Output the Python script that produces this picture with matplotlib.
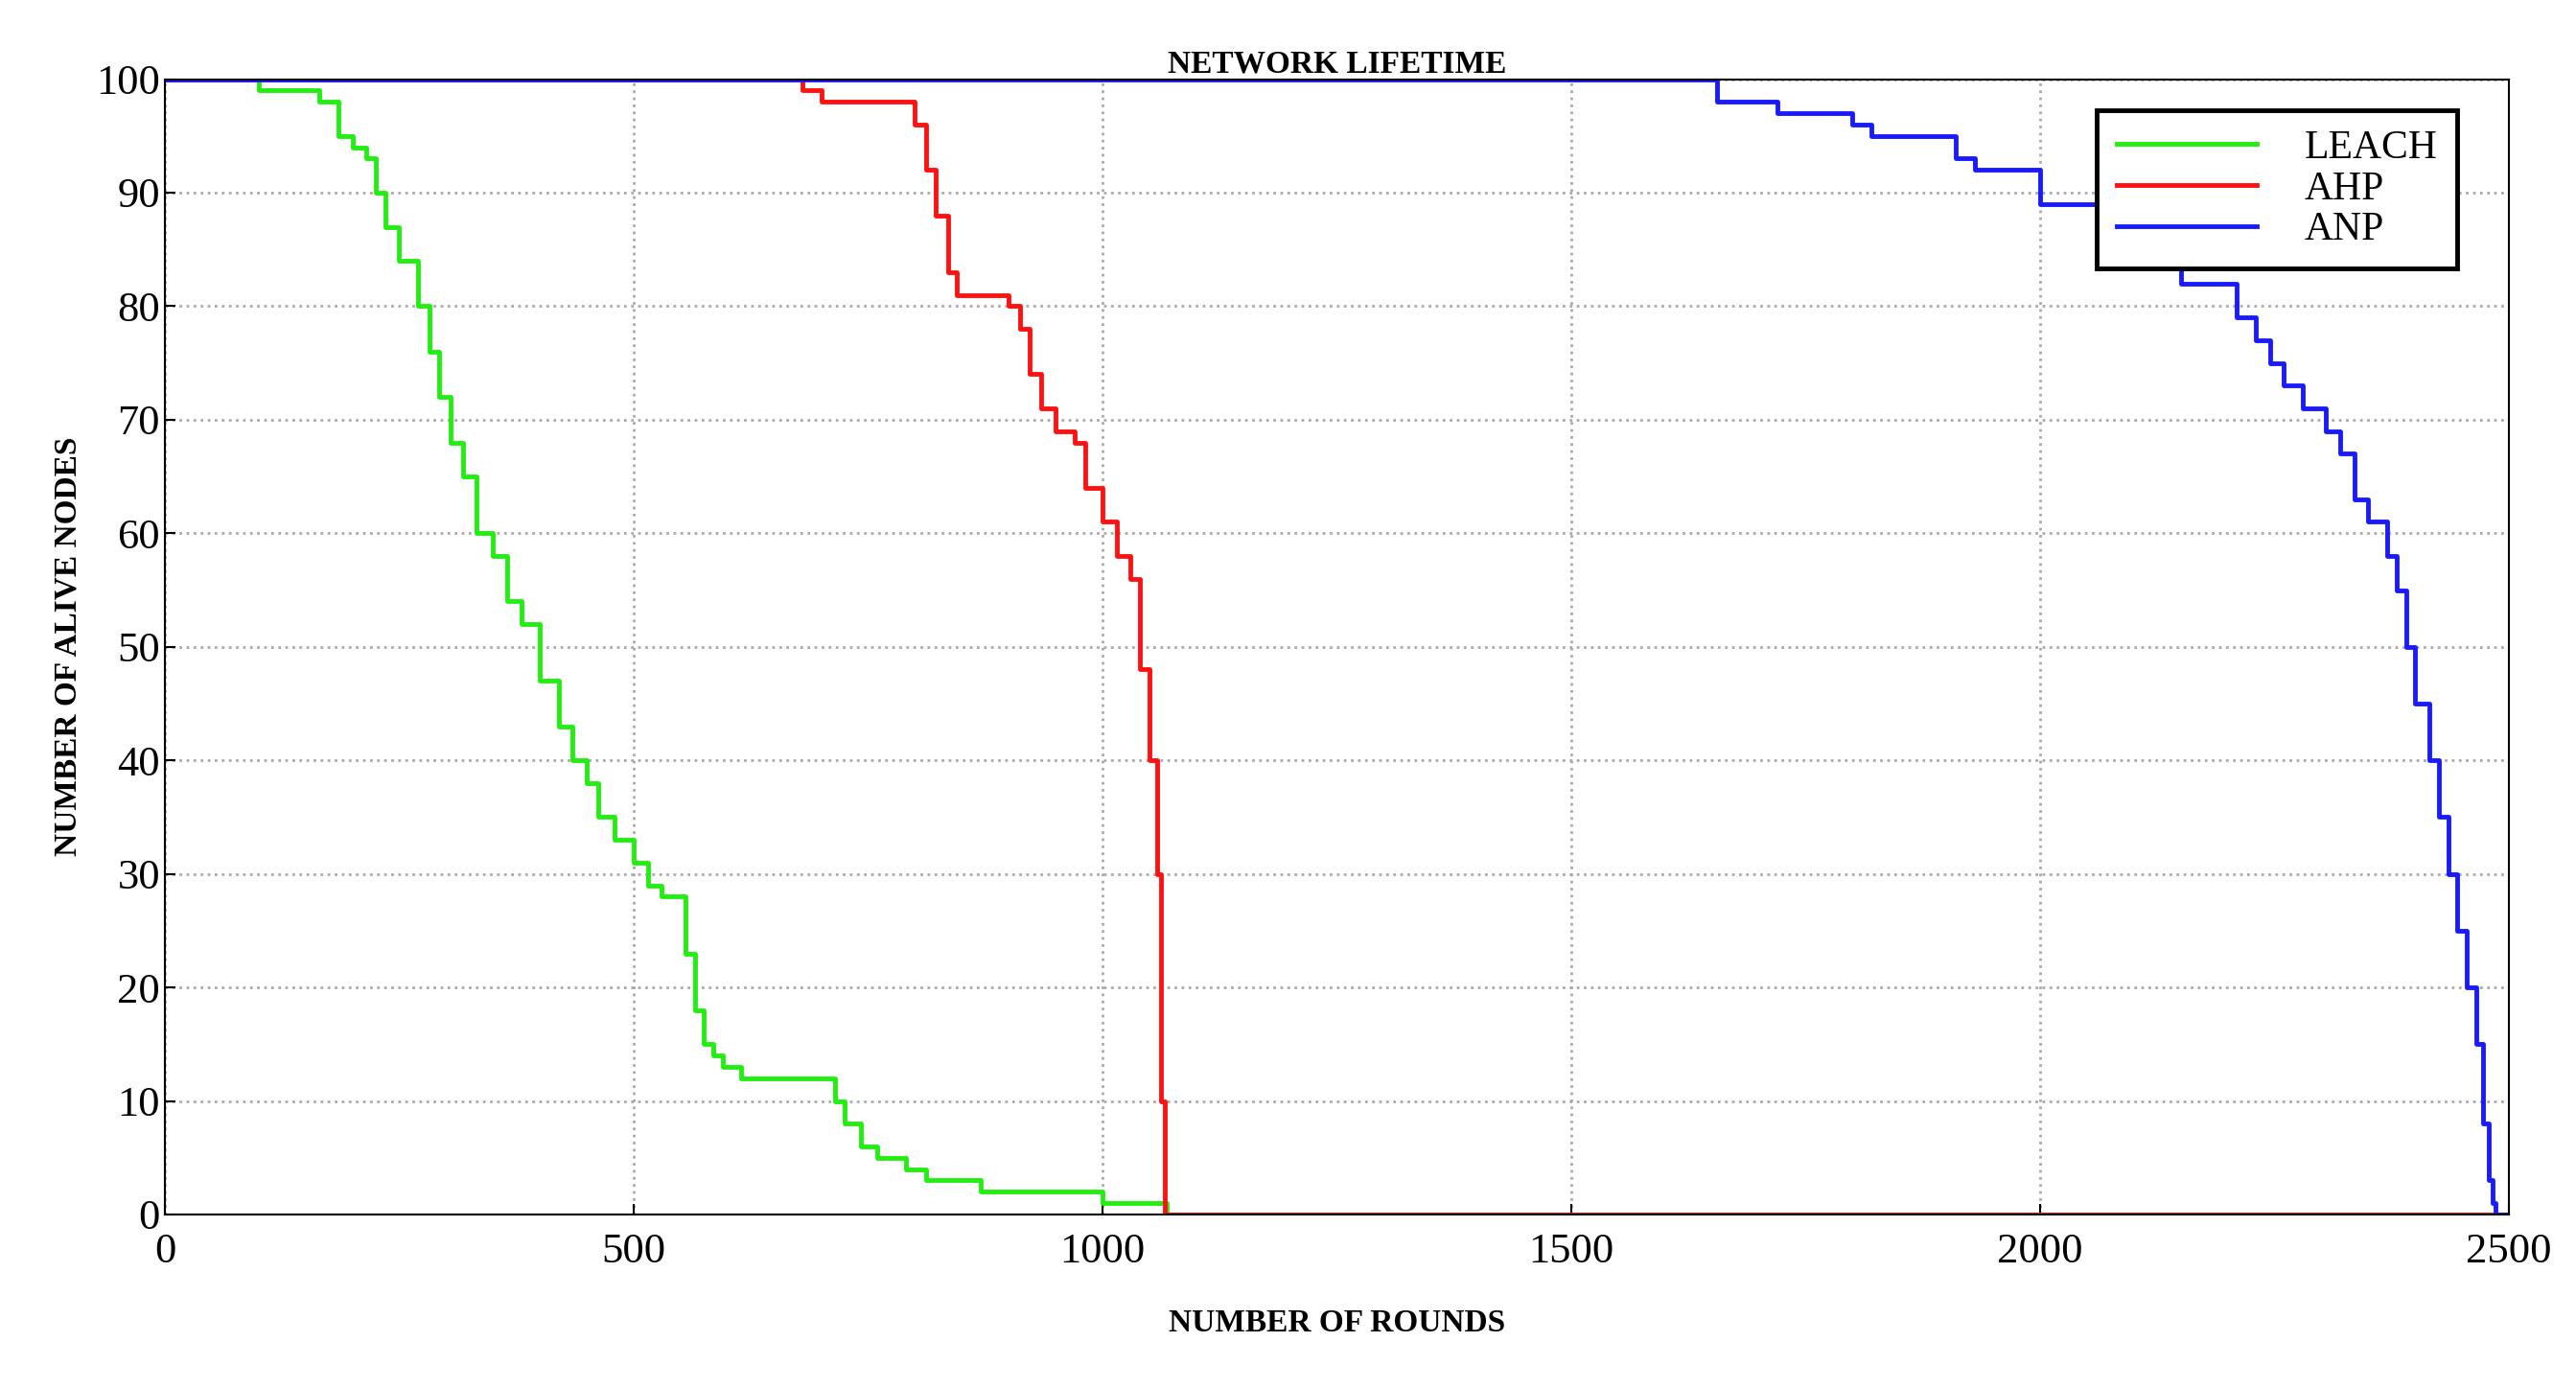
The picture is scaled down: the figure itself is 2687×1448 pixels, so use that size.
import matplotlib.pyplot as plt

plt.rcParams["font.family"] = ["Liberation Serif", "DejaVu Serif"]

leach_x = [0, 100, 165, 185, 200, 215, 225, 235, 250, 270, 282, 292, 305, 318, 332, 350, 365, 380, 400, 420, 435, 450, 462, 480, 500, 515, 530, 555, 565, 575, 585, 595, 615, 635, 655, 715, 725, 742, 760, 790, 812, 870, 920, 1000, 1068]
leach_y = [100, 99, 98, 95, 94, 93, 90, 87, 84, 80, 76, 72, 68, 65, 60, 58, 54, 52, 47, 43, 40, 38, 35, 33, 31, 29, 28, 23, 18, 15, 14, 13, 12, 12, 12, 10, 8, 6, 5, 4, 3, 2, 2, 1, 0]

ahp_x = [0, 680, 700, 790, 800, 812, 822, 835, 845, 880, 900, 912, 922, 935, 950, 970, 982, 1000, 1015, 1030, 1040, 1050, 1058, 1062, 1066]
ahp_y = [100, 99, 98, 98, 96, 92, 88, 83, 81, 81, 80, 78, 74, 71, 69, 68, 64, 61, 58, 56, 48, 40, 30, 10, 0]

anp_x = [0, 1640, 1655, 1700, 1720, 1800, 1820, 1890, 1910, 1930, 2000, 2080, 2150, 2210, 2230, 2245, 2260, 2280, 2305, 2320, 2335, 2350, 2370, 2380, 2390, 2400, 2415, 2425, 2435, 2445, 2455, 2465, 2472, 2478, 2482, 2486]
anp_y = [100, 100, 98, 98, 97, 96, 95, 95, 93, 92, 89, 86, 82, 79, 77, 75, 73, 71, 69, 67, 63, 61, 58, 55, 50, 45, 40, 35, 30, 25, 20, 15, 8, 3, 1, 0]

fig = plt.figure(figsize=(26.87, 14.48), dpi=100)
ax = fig.add_axes([0.064, 0.125, 0.910, 0.818])

ax.plot(leach_x + [2500], leach_y + [0], color="#22ee11", lw=3.5, drawstyle="steps-post", label="LEACH")
ax.plot(ahp_x + [2500], ahp_y + [0], color="#ff1111", lw=3.5, drawstyle="steps-post", label="AHP")
ax.plot(anp_x + [2500], anp_y + [0], color="#1a1aff", lw=3.5, drawstyle="steps-post", label="ANP")

ax.set_xlim(0, 2500)
ax.set_ylim(0, 100)
ax.set_xticks(range(0, 2501, 500))
ax.set_yticks(range(0, 101, 10))
ax.grid(True, linestyle=":", color="#aaaaaa", lw=2)
ax.tick_params(labelsize=32, direction="in", length=8, width=1.5)
ax.tick_params(axis="x", pad=14)
for s in ax.spines.values():
    s.set_linewidth(1.5)

ax.set_title("NETWORK LIFETIME", fontsize=24, fontweight="bold", pad=4)
ax.set_xlabel("NUMBER OF ROUNDS", fontsize=24, fontweight="bold", labelpad=28)
ax.set_ylabel("NUMBER OF ALIVE NODES", fontsize=24, fontweight="bold", labelpad=10)

leg = ax.legend(loc="upper right", bbox_to_anchor=(0.978, 0.973), fontsize=30,
                frameon=True, fancybox=False, edgecolor="black", handlelength=3.5,
                handletextpad=1.2, borderpad=0.5, labelspacing=0.1, framealpha=1,
                borderaxespad=0)
leg.get_frame().set_linewidth(3.5)
leg.set_zorder(10)

fig.savefig("out.png", dpi=100)
